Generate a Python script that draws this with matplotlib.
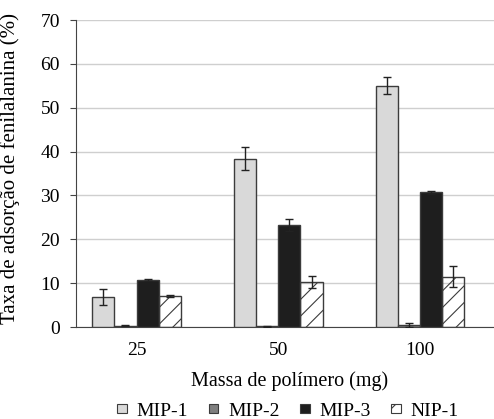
import numpy as np
import matplotlib.pyplot as plt
from matplotlib.patches import Patch

plt.rcParams['font.family'] = ['Liberation Serif', 'DejaVu Serif']
plt.rcParams['hatch.linewidth'] = 0.8

massas = ['25', '50', '100']
series = ['MIP-1', 'MIP-2', 'MIP-3', 'NIP-1']
valores = {
    'MIP-1': [6.8, 38.4, 55.0],
    'MIP-2': [0.3, 0.2, 0.5],
    'MIP-3': [10.7, 23.3, 30.7],
    'NIP-1': [7.0, 10.3, 11.5],
}
erros = {
    'MIP-1': [1.8, 2.7, 1.9],
    'MIP-2': [0.1, 0.1, 0.4],
    'MIP-3': [0.2, 1.3, 0.3],
    'NIP-1': [0.2, 1.3, 2.3],
}
# NIP-1 só tem hachura, fundo transparente
cores = {'MIP-1': '#d9d9d9', 'MIP-2': '#7f7f7f', 'MIP-3': '#1e1e1e', 'NIP-1': 'none'}
hachuras = {'MIP-1': None, 'MIP-2': None, 'MIP-3': None, 'NIP-1': '//'}

fig = plt.figure(figsize=(4.94, 4.19), dpi=100)
ax = fig.add_axes([76/494, 1 - 327/419, 418/494, 307/419])

x = np.arange(len(massas))
largura = 0.156
for i, s in enumerate(series):
    pos = x + (i - 1.5) * largura
    ax.bar(pos, valores[s], largura, color=cores[s], edgecolor='#3c3c3c',
           linewidth=1.0, hatch=hachuras[s], zorder=3)
    ax.errorbar(pos, valores[s], yerr=erros[s], fmt='none', ecolor='#222222',
                elinewidth=1.0, capsize=3, capthick=1.0, zorder=4)

ax.set_xlim(-0.4265, 2.52)
ax.set_ylim(0, 70)
ax.set_yticks(range(0, 71, 10))
ax.set_xticks(x)
ax.set_xticklabels(massas)
ax.grid(axis='y', color='#cfcfcf', linewidth=1.0, zorder=0)
ax.set_axisbelow(True)
for lado in ['top', 'right']:
    ax.spines[lado].set_visible(False)
ax.spines['left'].set_color('#444444')
ax.spines['bottom'].set_color('#444444')
ax.tick_params(axis='y', length=4.5, color='#444444', labelsize=14, pad=7)
ax.tick_params(axis='x', length=0, labelsize=14, pad=11)

ax.set_ylabel('Taxa de adsorção de fenilalanina (%)', fontsize=15)
ax.yaxis.set_label_coords(-0.134, 0.515)
ax.set_xlabel('Massa de polímero (mg)', fontsize=14.5)
ax.xaxis.set_label_coords(0.51, -0.145)

alcas = [Patch(facecolor='white' if cores[s] == 'none' else cores[s], edgecolor='#3c3c3c',
               hatch=hachuras[s], linewidth=0.8)
         for s in series]
fig.legend(alcas, series, loc='center', bbox_to_anchor=(288/494, 1 - 411/419), ncol=4,
           frameon=False, fontsize=14, handlelength=0.5, handleheight=0.38,
           handletextpad=0.5, columnspacing=1.05, borderpad=0.1)

fig.savefig('out.png', dpi=100)
